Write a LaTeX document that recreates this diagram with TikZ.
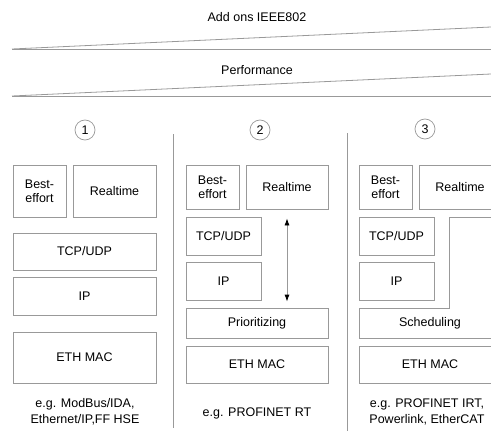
\documentclass[tikz,border=0pt]{standalone}
\usepackage{fontspec}
\setmainfont{Liberation Sans}
\usepackage{tikz}
\usetikzlibrary{arrows.meta, positioning}

\definecolor{edgegray}{gray}{0.6}

\tikzset{
  layer/.style={draw=edgegray, line width=0.8pt, inner sep=0pt, align=center},
  num/.style={draw=edgegray, line width=0.7pt, circle, minimum size=20pt, inner sep=0pt},
  note/.style={inner sep=0pt, align=center, font=\fontsize{12.5}{16}\selectfont},
  rule/.style={edgegray, line width=0.8pt},
}

\begin{document}
\begin{tikzpicture}[x=1pt, y=-1pt, font=\fontsize{12.5}{14}\selectfont]
        \useasboundingbox (0,0) rectangle (491,431);
        \clip (0,0) rectangle (491,431);

        % top bands
        \node (addons) at (257,17)    {Add ons IEEE802};
        \node (perf)   at (257,70)    {Performance};
        \draw[rule] (12,49) -- (491,27);
        \draw[rule] (12,49) -- (491,49);
        \draw[rule] (12,96) -- (491,74);
        \draw[rule] (12,96) -- (491,96);

        % column separators
        \draw[rule] (173,134) -- (173,428);
        \draw[rule] (347,133) -- (347,431);

        % column 1
        \node[num]   (n1)   at (85,130)       {1};
        \node[layer, minimum width=53pt,  minimum height=52pt] (be1)  at (39.5,191)  {Best-\\effort};
        \node[layer, minimum width=83pt,  minimum height=52pt] (rt1)  at (114.5,191) {Realtime};
        \node[layer, minimum width=143pt, minimum height=37pt] (tcp1) at (84.5,251.5) {TCP/UDP};
        \node[layer, minimum width=143pt, minimum height=38pt] (ip1)  at (84.5,296)  {IP};
        \node[layer, minimum width=143pt, minimum height=51pt] (eth1) at (84.5,357.5) {ETH MAC};
        \node[note]  (ex1)  at (85,412)       {e.g. ModBus/IDA,\\Ethernet/IP,FF HSE};

        % column 2
        \node[num]   (n2)   at (260,130)      {2};
        \node[layer, minimum width=53pt,  minimum height=44pt] (be2)   at (212.5,187) {Best-\\effort};
        \node[layer, minimum width=82pt,  minimum height=44pt] (rt2)   at (287,187)   {Realtime};
        \node[layer, minimum width=75pt,  minimum height=38pt] (tcp2)  at (223.5,236) {TCP/UDP};
        \node[layer, minimum width=75pt,  minimum height=38pt] (ip2)   at (223.5,281) {IP};
        \node[layer, minimum width=142pt, minimum height=30pt] (prio2) at (257,323)   {Prioritizing};
        \node[layer, minimum width=142pt, minimum height=37pt] (eth2)  at (257,364.5) {ETH MAC};
        \node[note]  (ex2)  at (257,413)      {e.g. PROFINET RT};

        \draw[edgegray, line width=0.8pt,
              {Latex[length=7pt,width=5pt,black]}-{Latex[length=7pt,width=5pt,black]}]
              ([yshift=-9pt]rt2.south) -- ([yshift=6pt]prio2.north -| rt2.south);

        % column 3
        \node[num]   (n3)   at (425,129)      {3};
        \node[layer, minimum width=53pt,  minimum height=44pt] (be3)  at (385.5,187) {Best-\\effort};
        \node[layer, minimum width=82pt,  minimum height=44pt] (rt3)  at (460,187)   {Realtime};
        \node[layer, minimum width=75pt,  minimum height=38pt] (tcp3) at (396.5,236) {TCP/UDP};
        \node[layer, minimum width=75pt,  minimum height=38pt] (ip3)  at (396.5,281) {IP};
        \node (sched3) at (430,323) {Scheduling};
        \draw[rule] (359,308) -- (449,308) -- (449,217) -- (501,217)
                    -- (501,338) -- (359,338) -- cycle;
        \node[layer, minimum width=142pt, minimum height=37pt] (eth3) at (430,364.5) {ETH MAC};
        \node[note]  (ex3)  at (427,412)      {e.g. PROFINET IRT,\\Powerlink, EtherCAT};
\end{tikzpicture}
\end{document}
